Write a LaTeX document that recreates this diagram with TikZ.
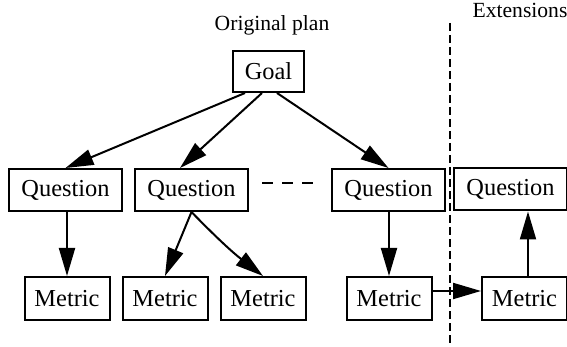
\documentclass[tikz,border=0pt]{standalone}
\usepackage{fontspec}
\setmainfont{Liberation Serif}
\usetikzlibrary{arrows.meta, positioning}

\begin{document}
\begin{tikzpicture}[x=0.5pt, y=-0.5pt, line width=1pt, >=Stealth]

  % Define styles
  \tikzstyle{box} = [rectangle, draw=black, line width=1pt, inner sep=0pt, minimum height=21pt, font=\fontsize{12.2}{14}\selectfont, text centered]
  \tikzstyle{goalbox} = [box, minimum width=35.5pt, minimum height=20.5pt]
  \tikzstyle{qbox} = [box, minimum width=56.5pt]
  \tikzstyle{mbox} = [box, minimum width=42.5pt, minimum height=21.5pt]
  \tikzstyle{title} = [font=\fontsize{10.8}{13}\selectfont]
  \tikzstyle{arrow} = [line width=1pt, -{Triangle[length=14pt,width=8pt]}]

  \useasboundingbox (0,0) rectangle (567,347);

  % Place nodes
  \node [title] (orig) at (272,25) {Original plan};
  \node [title] (ext) at (520,10) {Extensions};
  \node [goalbox] (goal) at (268.5,71.5) {Goal};
  \node [qbox] (q1) at (65.5,190) {Question};
  \node [qbox] (q2) at (191.5,190) {Question};
  \node [qbox] (q3) at (388.5,190) {Question};
  \node [qbox] (q4) at (510.5,189.5) {Question};
  \node [mbox] (m1) at (67,298.5) {Metric};
  \node [mbox] (m2) at (165,298.5) {Metric};
  \node [mbox] (m3) at (263,298.5) {Metric};
  \node [mbox] (m4) at (389,298.5) {Metric};
  \node [mbox] (m5) at (524.5,298.5) {Metric};

  % Separator
  \draw [dash pattern=on 4pt off 2pt] (450,23) -- (450,347);

  % Draw edges
  \draw [arrow] ([xshift=-11.75pt]goal.south) -- (q1.north);
  \draw [arrow] ([xshift=-3.25pt]goal.south) -- ([xshift=-5.75pt]q2.north);
  \draw [arrow] ([xshift=4.25pt]goal.south) -- (q3.north);
  \draw [dash pattern=on 5.5pt off 4.5pt, shorten <=6.5pt, shorten >=7.5pt] ([yshift=3.5pt]q2.east) -- ([yshift=3.5pt]q3.west);
  \draw [arrow] (q1.south -| m1.north) -- (m1.north);
  \draw [arrow] (q2.south) -- (m2.north);
  \draw [arrow] (q2.south) to[bend right=4] (m3.north);
  \draw [arrow] (q3.south -| m4.north) -- (m4.north);
  \draw [arrow] ([yshift=3.75pt]m4.east) -- ([yshift=3.75pt]m5.west);
  \draw [arrow] ([xshift=1.75pt]m5.north) -- ([xshift=1.75pt]m5.north |- q4.south);

\end{tikzpicture}
\end{document}
